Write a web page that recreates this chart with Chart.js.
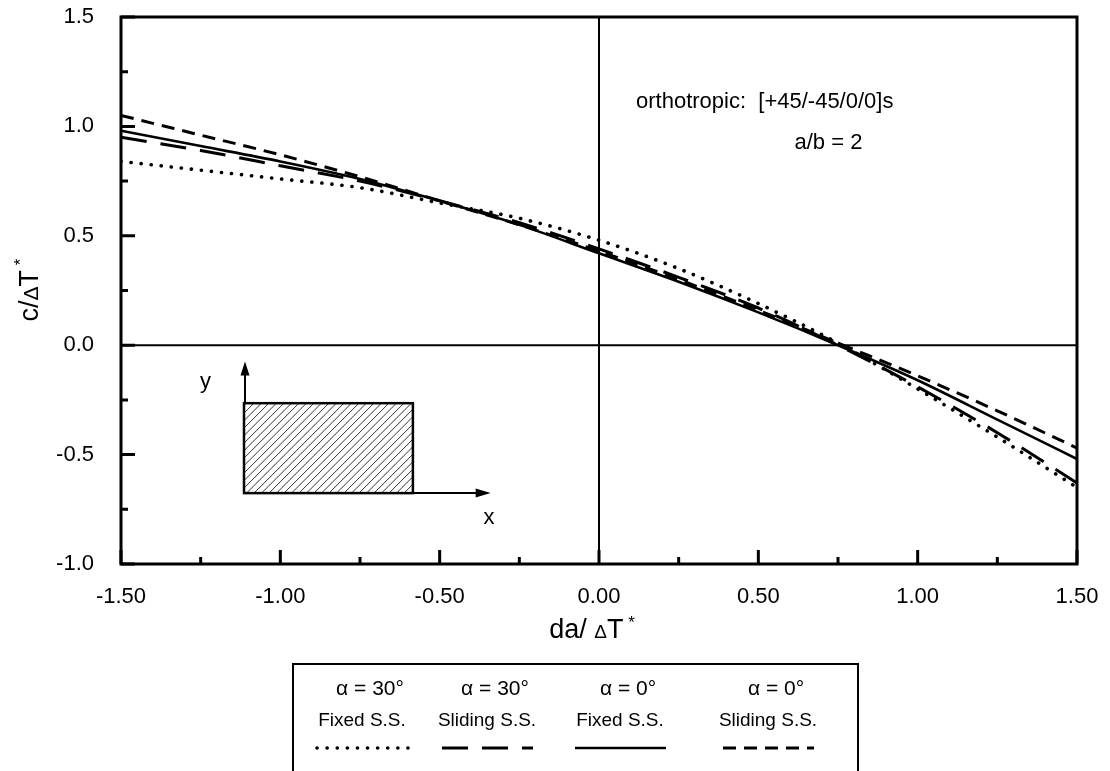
<!DOCTYPE html>
<html>
<head>
<meta charset="utf-8">
<script src="https://cdn.jsdelivr.net/npm/chart.js@4.4.0/dist/chart.umd.min.js"></script>
<style>
  html, body { margin: 0; padding: 0; background: #fff; }
  #wrap { width: 1110px; height: 771px; }
</style>
</head>
<body>
<div id="wrap"><canvas id="grafik" width="1110" height="771"></canvas></div>
<script>
/* ===== DATA ===== */
const xValues   = [-1.5, -1.25, -1.0, -0.75, -0.5, -0.25, 0.0, 0.25, 0.5, 0.75, 1.0, 1.25, 1.5];
const fixed30   = [0.84, 0.80, 0.76, 0.72, 0.65, 0.58, 0.48, 0.35, 0.19, 0.01, -0.20, -0.42, -0.65];
const sliding30 = [0.95, 0.89, 0.82, 0.75, 0.66, 0.56, 0.44, 0.31, 0.17, 0.00, -0.19, -0.40, -0.63];
const fixed0    = [0.98, 0.91, 0.84, 0.76, 0.66, 0.55, 0.42, 0.29, 0.15, 0.00, -0.16, -0.34, -0.52];
const sliding0  = [1.05, 0.96, 0.87, 0.77, 0.66, 0.55, 0.43, 0.30, 0.16, 0.01, -0.14, -0.30, -0.47];

const yTicks = [-1.0, -0.5, 0.0, 0.5, 1.0, 1.5];
const xTicks = [-1.5, -1.0, -0.5, 0.0, 0.5, 1.0, 1.5];

const legendTop    = ["α = 30°", "α = 30°", "α = 0°", "α = 0°"];
const legendBottom = ["Fixed S.S.", "Sliding S.S.", "Fixed S.S.", "Sliding S.S."];

const noteLine1 = "orthotropic:  [+45/-45/0/0]s";
const noteLine2 = "a/b = 2";

/* ===== STYLES ===== */
const FONT = "'Liberation Sans', Arial, Helvetica, sans-serif";
const lineStyles = [
  { dash: [0.1, 10], width: 3.6, cap: "round" },   // α=30 fixed : dotted
  { dash: [26, 14],  width: 3,   cap: "butt"  },   // α=30 sliding : long dash
  { dash: [],        width: 2.6, cap: "butt"  },   // α=0 fixed : solid
  { dash: [13, 8],   width: 3,   cap: "butt"  }    // α=0 sliding : short dash
];
const seriesList = [fixed30, sliding30, fixed0, sliding0];

function makeDataset(values, i) {
  const st = lineStyles[i];
  return {
    label: legendBottom[i],
    data: values.map((y, k) => ({ x: xValues[k], y })),
    borderColor: "#000",
    borderWidth: st.width,
    borderDash: st.dash,
    borderCapStyle: st.cap,
    pointRadius: 0,
    fill: false,
    cubicInterpolationMode: "monotone"
  };
}

/* ===== HELPER: text in pieces (for Δ and *) ===== */
function drawPieces(ctx, pieces, cx, cy) {
  let total = 0;
  pieces.forEach(p => { ctx.font = p.font; p.w = ctx.measureText(p.t).width; total += p.w; });
  let x = cx - total / 2;
  ctx.textAlign = "left";
  ctx.textBaseline = "alphabetic";
  pieces.forEach(p => {
    ctx.font = p.font;
    ctx.fillText(p.t, x, cy + (p.dy || 0));
    x += p.w;
  });
}

/* ===== PLUGIN: frame, inner ticks, axes, texts, inset, legend ===== */
const deko = {
  id: "deko",
  beforeDatasetsDraw(chart) {
    const { ctx, chartArea: a, scales: { x, y } } = chart;
    ctx.save();
    ctx.strokeStyle = "#000";
    ctx.lineWidth = 2;
    ctx.beginPath();
    ctx.moveTo(x.getPixelForValue(0), a.top);
    ctx.lineTo(x.getPixelForValue(0), a.bottom);
    ctx.moveTo(a.left, y.getPixelForValue(0));
    ctx.lineTo(a.right, y.getPixelForValue(0));
    ctx.stroke();
    ctx.restore();
  },
  afterDatasetsDraw(chart) {
    const { ctx, chartArea: a, scales: { x, y } } = chart;
    ctx.save();
    ctx.strokeStyle = "#000";
    ctx.lineWidth = 3;
    ctx.strokeRect(a.left, a.top, a.right - a.left, a.bottom - a.top);

    // inner ticks, major every 0.5, minor every 0.25
    ctx.beginPath();
    for (let v = -1.0; v <= 1.5001; v += 0.25) {
      const py = y.getPixelForValue(v);
      const len = Math.abs(v * 2 - Math.round(v * 2)) < 1e-6 ? 14 : 7;
      ctx.moveTo(a.left, py);
      ctx.lineTo(a.left + len, py);
    }
    for (let v = -1.5; v <= 1.5001; v += 0.25) {
      const px = x.getPixelForValue(v);
      const len = Math.abs(v * 2 - Math.round(v * 2)) < 1e-6 ? 14 : 7;
      ctx.moveTo(px, a.bottom);
      ctx.lineTo(px, a.bottom - len);
    }
    ctx.stroke();
    ctx.restore();
  },
  afterDraw(chart) {
    const { ctx, scales: { x, y } } = chart;
    ctx.save();
    ctx.fillStyle = "#000";
    ctx.strokeStyle = "#000";

    // axis titles
    drawPieces(ctx, [
      { t: "da/ ", font: `27px ${FONT}` },
      { t: "Δ", font: `19px ${FONT}` },
      { t: "T", font: `27px ${FONT}` },
      { t: " *", font: `17px ${FONT}`, dy: -10 }
    ], 592, 638);

    ctx.save();
    ctx.translate(38, 290);
    ctx.rotate(-Math.PI / 2);
    drawPieces(ctx, [
      { t: "c/", font: `27px ${FONT}` },
      { t: "Δ", font: `21px ${FONT}` },
      { t: "T", font: `27px ${FONT}` },
      { t: " *", font: `17px ${FONT}`, dy: -12 }
    ], 0, 0);
    ctx.restore();

    // note
    ctx.font = `22px ${FONT}`;
    ctx.textAlign = "center";
    ctx.textBaseline = "middle";
    ctx.fillText(noteLine1, x.getPixelForValue(0.52), y.getPixelForValue(1.11));
    ctx.fillText(noteLine2, x.getPixelForValue(0.72), y.getPixelForValue(0.925));

    // inset: hatched plate with x/y axes
    const rx0 = x.getPixelForValue(-1.114), rx1 = x.getPixelForValue(-0.584);
    const ry0 = y.getPixelForValue(-0.265), ry1 = y.getPixelForValue(-0.676);
    ctx.save();
    ctx.beginPath();
    ctx.rect(rx0, ry0, rx1 - rx0, ry1 - ry0);
    ctx.clip();
    ctx.lineWidth = 1;
    ctx.strokeStyle = "#333";
    ctx.beginPath();
    for (let k = -200; k < 300; k += 7.5) {
      ctx.moveTo(rx0 + k, ry1);
      ctx.lineTo(rx0 + k + (ry1 - ry0), ry0);
    }
    ctx.stroke();
    ctx.restore();
    ctx.lineWidth = 2.5;
    ctx.strokeRect(rx0, ry0, rx1 - rx0, ry1 - ry0);

    const tipY = y.getPixelForValue(-0.075);
    const tipX = x.getPixelForValue(-0.34);
    ctx.lineWidth = 2;
    ctx.beginPath();
    ctx.moveTo(rx0 + 1, ry0);
    ctx.lineTo(rx0 + 1, tipY + 10);
    ctx.moveTo(rx1, ry1);
    ctx.lineTo(tipX - 10, ry1);
    ctx.stroke();
    ctx.beginPath();
    ctx.moveTo(rx0 + 1, tipY);
    ctx.lineTo(rx0 - 3.5, tipY + 14);
    ctx.lineTo(rx0 + 5.5, tipY + 14);
    ctx.closePath();
    ctx.moveTo(tipX, ry1);
    ctx.lineTo(tipX - 15, ry1 - 4.5);
    ctx.lineTo(tipX - 15, ry1 + 4.5);
    ctx.closePath();
    ctx.fill();

    ctx.font = `22px ${FONT}`;
    ctx.fillText("y", x.getPixelForValue(-1.235), y.getPixelForValue(-0.17));
    ctx.fillText("x", x.getPixelForValue(-0.345), y.getPixelForValue(-0.79));

    // legend box
    ctx.lineWidth = 2;
    ctx.strokeRect(293, 664, 565, 120);
    const cols = [362, 487, 620, 768];
    cols.forEach((cx, i) => {
      ctx.font = `21px ${FONT}`;
      ctx.textAlign = "center";
      ctx.textBaseline = "middle";
      ctx.fillText(legendTop[i], cx + 8, 689);
      ctx.font = `19px ${FONT}`;
      ctx.fillText(legendBottom[i], cx, 721);
      const st = lineStyles[i];
      ctx.save();
      ctx.setLineDash(st.dash);
      ctx.lineCap = st.cap;
      ctx.lineWidth = st.width;
      ctx.beginPath();
      ctx.moveTo(cx - 45, 748);
      ctx.lineTo(cx + 46, 748);
      ctx.stroke();
      ctx.restore();
    });
    ctx.restore();
  }
};

/* ===== CHART ===== */
const grafik = new Chart(document.getElementById("grafik"), {
  type: "line",
  data: { datasets: seriesList.map(makeDataset) },
  options: {
    responsive: false,
    animation: false,
    devicePixelRatio: 1,
    layout: { padding: { top: 17, right: 33, left: 0, bottom: 0 } },
    plugins: { legend: { display: false }, tooltip: { enabled: false } },
    scales: {
      x: {
        type: "linear",
        min: -1.5, max: 1.5,
        afterFit(s) { s.height = 207; s.paddingLeft = 0; s.paddingRight = 0; },
        afterBuildTicks(s) { s.ticks = xTicks.map(v => ({ value: v })); },
        grid: { display: false },
        border: { display: false },
        ticks: {
          padding: 12,
          color: "#000",
          font: { family: FONT, size: 22 },
          maxRotation: 0,
          callback: v => v.toFixed(2)
        }
      },
      y: {
        type: "linear",
        min: -1.0, max: 1.5,
        afterFit(s) { s.width = 121; s.paddingTop = 0; s.paddingBottom = 0; },
        afterBuildTicks(s) { s.ticks = yTicks.map(v => ({ value: v })); },
        grid: { display: false },
        border: { display: false },
        ticks: {
          padding: 19,
          color: "#000",
          font: { family: FONT, size: 22 },
          callback: v => v.toFixed(1)
        }
      }
    }
  },
  plugins: [deko]
});
</script>
</body>
</html>
